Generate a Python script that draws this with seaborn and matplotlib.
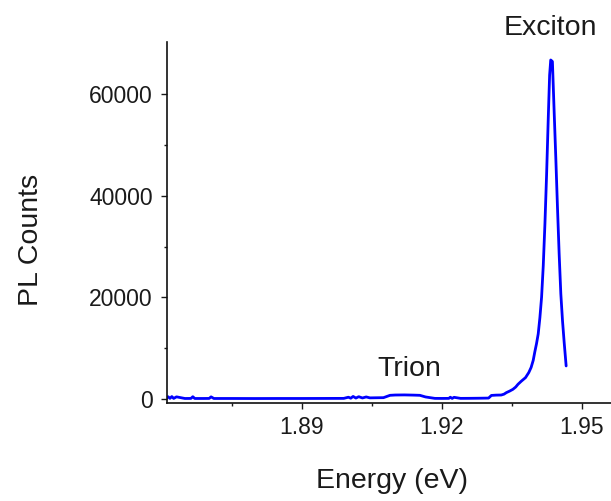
import numpy as np
import pandas as pd
import matplotlib
matplotlib.use("Agg")
import matplotlib.pyplot as plt
import seaborn as sns

# PL spectrum: photon energy (eV) and detector counts
energy = [
    1.8611, 1.8614, 1.8618, 1.8622, 1.8626, 1.8632, 1.8650, 1.8663, 1.8667, 1.8671,
    1.8690, 1.8702, 1.8706, 1.8712, 1.8750, 1.8800, 1.8850, 1.8900, 1.8950, 1.8990,
    1.9000, 1.9005, 1.9010, 1.9016, 1.9022, 1.9030, 1.9038, 1.9046, 1.9060, 1.9075,
    1.9089, 1.9100, 1.9120, 1.9140, 1.9153, 1.9165, 1.9185, 1.9200, 1.9215, 1.9218,
    1.9222, 1.9226, 1.9240, 1.9260, 1.9280, 1.9300, 1.9306, 1.9316, 1.9327, 1.9333,
    1.9338, 1.9345, 1.9352, 1.9358, 1.9363, 1.9370, 1.93790, 1.93860, 1.93910, 1.93955,
    1.93990, 1.94026, 1.94062, 1.94098, 1.94134, 1.94170, 1.94206, 1.94242, 1.94278, 1.94306,
    1.94330, 1.94366, 1.94402, 1.94438, 1.94474, 1.94510, 1.94546, 1.94582, 1.94618, 1.94660,
]
counts = [
    200, 450, 120, 480, 110, 420, 100, 110, 450, 100,
    100, 110, 420, 100, 100, 90, 100, 100, 110, 120,
    350, 150, 500, 180, 450, 200, 400, 220, 240, 260,
    720, 780, 800, 760, 720, 400, 120, 110, 120, 350,
    110, 330, 120, 130, 150, 180, 700, 760, 780, 950,
    1250, 1550, 1900, 2350, 2900, 3500, 4200, 5200, 6200, 7600,
    9300, 10900, 12800, 16000, 20000, 26200, 34500, 44300, 55500, 63700,
    66700, 66400, 56850, 47600, 37800, 28600, 20700, 15400, 11100, 6500,
]

xticks = [1.89, 1.92, 1.95]
xtick_labels = ["1.89", "1.92", "1.95"]
yticks = [0, 20000, 40000, 60000]
ytick_labels = ["0", "20000", "40000", "60000"]

sns.set_style("ticks")
plt.rcParams["font.family"] = ["Liberation Sans", "DejaVu Sans"]

fig = plt.figure(figsize=(6.11, 5.01), dpi=100)
ax = fig.add_axes([0.2728, 0.195, 0.7272, 0.7218])

df = pd.DataFrame({"Energy": energy, "Counts": counts})
sns.lineplot(data=df, x="Energy", y="Counts", ax=ax, color="#0000ff",
             linewidth=2.0, sort=False, estimator=None)

ax.set_xlim(1.8611, 1.9562)
ax.set_ylim(-850, 70300)

ax.set_xticks(xticks)
ax.set_xticklabels(xtick_labels)
ax.set_xticks([1.875, 1.905, 1.935], minor=True)
ax.set_yticks(yticks)
ax.set_yticklabels(ytick_labels)
ax.set_yticks([10000, 30000, 50000], minor=True)

ax.tick_params(axis="both", which="major", direction="out", length=4,
               width=1.0, labelsize=16.5, colors="#1a1a1a", pad=6)
ax.tick_params(axis="both", which="minor", direction="out", length=2.5,
               width=1.0, colors="#1a1a1a")
ax.tick_params(axis="x", which="major", pad=5)

for side in ("top", "right"):
    ax.spines[side].set_visible(False)
for side in ("left", "bottom"):
    ax.spines[side].set_linewidth(1.2)
    ax.spines[side].set_color("#111111")

ax.set_xlabel("")
ax.set_ylabel("")
fig.text(392.5 / 611, 1 - 488.3 / 501, "Energy (eV)", ha="center", va="baseline",
         fontsize=20.5, color="#1a1a1a")
fig.text(31.5 / 611, 1 - 240 / 501, "PL Counts", ha="center", va="center",
         rotation=90, fontsize=20.5, color="#1a1a1a")

ax.text(1.9433, 71600, "Exciton", ha="center", va="baseline", fontsize=20.5,
        color="#1a1a1a", clip_on=False)
ax.text(1.9130, 4520, "Trion", ha="center", va="baseline", fontsize=20.5,
        color="#1a1a1a", clip_on=False)

fig.savefig("out.png", dpi=100)
